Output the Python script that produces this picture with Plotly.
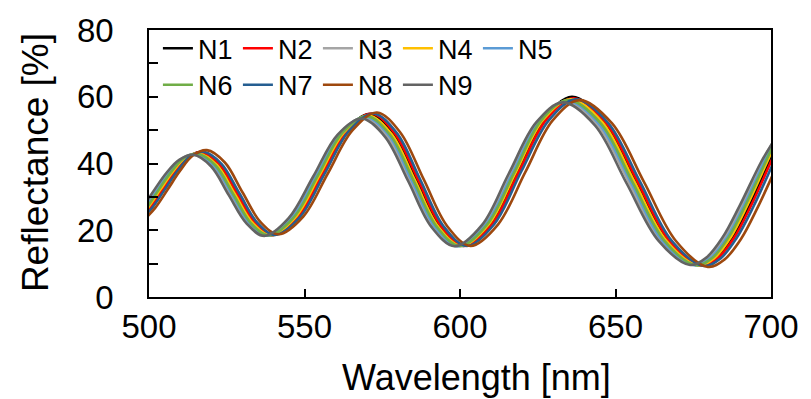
import plotly.graph_objects as go

# Wavelength [nm] of the read-off points for each sample (N1..N9)
x_N1 = [496.0, 500.0, 504.0, 508.0, 512.0, 516.5, 522.3, 528.0, 533.8, 539.5, 547.4, 555.3, 563.1, 571.0, 578.5, 586.0, 593.5, 601.0, 609.8, 618.5, 627.3, 636.0, 646.3, 656.5, 666.8, 677.0, 682.3, 687.5, 693.0, 700.0, 704.0]
x_N2 = [496.4, 500.4, 504.4, 508.4, 512.4, 516.9, 522.7, 528.4, 534.2, 539.9, 547.8, 555.7, 563.5, 571.5, 579.0, 586.5, 594.0, 601.5, 610.3, 619.0, 627.8, 636.5, 646.8, 657.0, 667.3, 677.5, 682.8, 688.1, 693.6, 700.6, 704.6]
x_N3 = [494.3, 498.3, 502.3, 506.3, 510.3, 514.7, 520.5, 526.2, 532.0, 537.7, 545.5, 553.4, 561.2, 569.1, 576.5, 584.0, 591.5, 599.0, 607.7, 616.4, 625.2, 633.8, 644.1, 654.3, 664.5, 674.7, 680.0, 685.2, 690.6, 697.6, 701.6]
x_N4 = [495.6, 499.6, 503.6, 507.6, 511.6, 516.1, 521.9, 527.6, 533.4, 539.1, 547.0, 554.9, 562.7, 570.5, 578.0, 585.5, 593.0, 600.5, 609.3, 618.0, 626.8, 635.5, 645.8, 656.0, 666.3, 676.5, 681.8, 687.0, 692.4, 699.4, 703.4]
x_N5 = [494.8, 498.8, 502.7, 506.7, 510.7, 515.2, 521.0, 526.7, 532.5, 538.2, 546.0, 553.9, 561.7, 569.6, 577.1, 584.5, 592.0, 599.5, 608.3, 617.0, 625.7, 634.4, 644.7, 654.9, 665.1, 675.3, 680.6, 685.8, 691.3, 698.3, 702.2]
x_N6 = [495.2, 499.2, 503.1, 507.1, 511.1, 515.6, 521.4, 527.1, 532.9, 538.6, 546.5, 554.4, 562.1, 570.0, 577.5, 585.0, 592.5, 600.0, 608.8, 617.5, 626.2, 634.9, 645.2, 655.4, 665.7, 675.9, 681.1, 686.3, 691.8, 698.8, 702.8]
x_N7 = [497.0, 501.0, 505.0, 509.0, 513.0, 517.5, 523.3, 529.1, 534.9, 540.6, 548.5, 556.4, 564.2, 572.1, 579.7, 587.2, 594.7, 602.2, 611.0, 619.7, 628.6, 637.3, 647.6, 657.8, 668.1, 678.4, 683.7, 688.9, 694.4, 701.4, 705.4]
x_N8 = [498.0, 502.0, 506.0, 510.0, 514.0, 518.6, 524.4, 530.1, 535.9, 541.7, 549.6, 557.5, 565.4, 573.3, 580.8, 588.3, 595.9, 603.4, 612.2, 621.0, 629.8, 638.5, 648.9, 659.1, 669.5, 679.7, 685.0, 690.3, 695.8, 702.8, 706.8]
x_N9 = [493.8, 497.8, 501.7, 505.7, 509.7, 514.2, 520.0, 525.6, 531.4, 537.1, 544.9, 552.8, 560.6, 568.4, 575.9, 583.4, 590.8, 598.3, 607.1, 615.7, 624.5, 633.1, 643.4, 653.5, 663.8, 674.0, 679.2, 684.4, 689.9, 696.9, 700.8]

# Reflectance [%]
y_N1 = [22.7, 26.7, 32.1, 37.5, 41.7, 43.3, 39.7, 30.9, 22.1, 18.5, 23.8, 36.7, 49.5, 54.8, 49.0, 35.1, 21.1, 15.3, 21.8, 37.7, 53.5, 60.0, 52.6, 34.8, 16.9, 9.5, 11.7, 17.8, 27.5, 41.9, 49.8]
y_N2 = [22.7, 26.7, 32.1, 37.5, 41.8, 43.4, 39.8, 31.0, 22.2, 18.6, 23.9, 36.8, 49.6, 55.0, 49.1, 35.2, 21.2, 15.3, 21.8, 37.6, 53.2, 59.5, 52.4, 34.8, 16.9, 9.4, 11.6, 17.7, 27.4, 41.8, 49.8]
y_N3 = [22.7, 26.7, 32.1, 37.4, 41.3, 42.7, 39.2, 30.7, 22.0, 18.4, 23.7, 36.3, 48.9, 53.8, 48.3, 34.8, 21.0, 15.2, 21.7, 37.2, 52.6, 58.5, 51.7, 34.4, 16.9, 9.6, 11.8, 17.8, 27.4, 41.3, 48.0]
y_N4 = [22.7, 26.7, 32.1, 37.5, 41.6, 43.0, 39.5, 30.9, 22.1, 18.5, 23.8, 36.6, 49.3, 54.4, 48.8, 35.0, 21.1, 15.3, 21.8, 37.5, 53.2, 59.2, 52.3, 34.7, 16.9, 9.5, 11.7, 17.8, 27.5, 41.8, 49.7]
y_N5 = [22.7, 26.7, 32.1, 37.4, 41.4, 42.8, 39.3, 30.8, 22.0, 18.4, 23.7, 36.4, 49.0, 54.0, 48.5, 34.9, 21.0, 15.2, 21.7, 37.3, 52.8, 58.8, 51.9, 34.5, 16.9, 9.5, 11.7, 17.8, 27.4, 41.5, 49.3]
y_N6 = [22.7, 26.7, 32.1, 37.4, 41.5, 42.9, 39.4, 30.8, 22.0, 18.5, 23.8, 36.5, 49.1, 54.2, 48.6, 35.0, 21.1, 15.3, 21.8, 37.4, 53.0, 59.0, 52.1, 34.6, 16.9, 9.5, 11.7, 17.8, 27.5, 41.6, 49.5]
y_N7 = [22.7, 26.7, 32.1, 37.6, 41.9, 43.5, 39.9, 31.0, 22.2, 18.6, 23.9, 36.8, 49.6, 55.0, 49.1, 35.2, 21.2, 15.3, 21.8, 37.6, 53.0, 59.2, 52.2, 34.7, 16.8, 9.3, 11.5, 17.6, 27.2, 41.5, 49.5]
y_N8 = [22.7, 26.7, 32.2, 37.8, 42.3, 44.0, 40.3, 31.3, 22.4, 18.8, 24.1, 37.0, 49.9, 55.3, 49.3, 35.3, 21.2, 15.3, 21.7, 37.4, 52.9, 59.0, 52.0, 34.6, 16.7, 9.0, 11.2, 17.3, 27.0, 41.2, 49.2]
y_N9 = [22.7, 26.7, 32.1, 37.3, 41.1, 42.6, 39.1, 30.6, 22.0, 18.3, 23.6, 36.1, 48.6, 53.5, 48.0, 34.6, 21.0, 15.2, 21.6, 37.0, 52.3, 58.3, 51.4, 34.2, 16.9, 9.6, 11.8, 17.8, 27.3, 40.6, 46.6]

names = ["N1", "N2", "N3", "N4", "N5", "N6", "N7", "N8", "N9"]
xs = [x_N1, x_N2, x_N3, x_N4, x_N5, x_N6, x_N7, x_N8, x_N9]
ys = [y_N1, y_N2, y_N3, y_N4, y_N5, y_N6, y_N7, y_N8, y_N9]
colors = ["#000000", "#FF0000", "#A5A5A5", "#FFC000", "#5B9BD5",
          "#70AD47", "#255E91", "#9E480E", "#636363"]
legend_ids = ["legend", "legend", "legend", "legend", "legend",
              "legend2", "legend2", "legend2", "legend2"]

FONT = "Liberation Sans, Arial, sans-serif"

fig = go.Figure()
for n, x, y, c, lg in zip(names, xs, ys, colors, legend_ids):
    fig.add_trace(go.Scatter(x=x, y=y, name=n, mode="lines",
                             line=dict(color=c, width=2.6, shape="spline"),
                             legend=lg))

legend_common = dict(orientation="h", font=dict(family=FONT, size=27, color="black"),
                     bgcolor="rgba(0,0,0,0)", borderwidth=0,
                     entrywidth=35, entrywidthmode="pixels",
                     xanchor="left", yanchor="middle", tracegroupgap=0)

L, R, T, B = 149, 34, 30, 102
PW = 811 - L - R
PH = 399 - T - B

fig.update_layout(
    width=811, height=399,
    margin=dict(l=L, r=R, t=T, b=B),
    paper_bgcolor="white", plot_bgcolor="white",
    font=dict(family=FONT, color="black"),
    showlegend=True,
    legend=dict(x=9 / PW, y=0.93, **legend_common),
    legend2=dict(x=9 / PW, y=0.793, **legend_common),
    xaxis=dict(range=[500, 700], dtick=50, tick0=500,
               showline=True, mirror=True, linecolor="black", linewidth=1.5,
               ticks="inside", ticklen=8, tickwidth=1.5, tickcolor="black",
               showgrid=False, zeroline=False,
               tickfont=dict(family=FONT, size=33, color="black")),
    yaxis=dict(range=[0, 80], dtick=20, tick0=0,
               showline=True, mirror=True, linecolor="black", linewidth=1.5,
               ticks="inside", ticklen=9, tickwidth=1.5, tickcolor="black",
               minor=dict(dtick=10, ticks="inside", ticklen=9, tickwidth=1.5,
                          tickcolor="black", showgrid=False),
               showgrid=False, zeroline=False,
               ticklabelstandoff=27,
               tickfont=dict(family=FONT, size=33, color="black")),
    annotations=[
        dict(text="Wavelength [nm]", xref="paper", yref="paper",
             x=(480 - L) / PW, y=(297 - 377) / PH,
             xanchor="center", yanchor="middle", showarrow=False,
             font=dict(family=FONT, size=36, color="black")),
        dict(text="Reflectance [%]", xref="paper", yref="paper",
             x=(34 - L) / PW, y=(297 - 163) / PH, textangle=-90,
             xanchor="center", yanchor="middle", showarrow=False,
             font=dict(family=FONT, size=37, color="black")),
    ],
)

fig.write_html("out.html", config={"displayModeBar": False},
               post_script="document.body.style.margin='0';")
